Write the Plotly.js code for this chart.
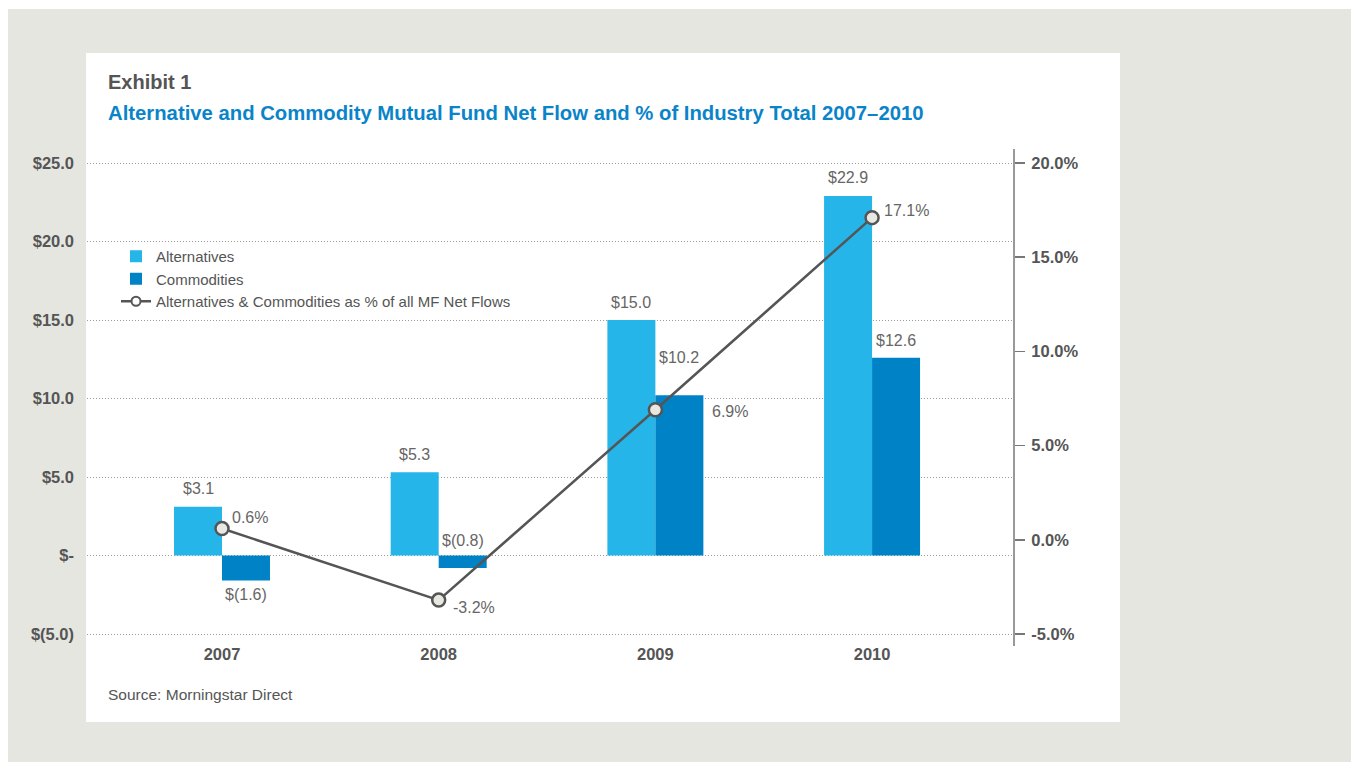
<!DOCTYPE html>
<html><head><meta charset="utf-8">
<script src="https://cdn.plot.ly/plotly-3.0.1.min.js"></script>
<style>html,body{margin:0;padding:0;background:#fff;} #chart{width:1351px;height:762px;}</style>
</head><body><div id="chart"></div>
<script>
// ---- data ----
const years = ['2007', '2008', '2009', '2010'];
const alternatives = [3.1, 5.3, 15.0, 22.9];
const commodities = [-1.6, -0.8, 10.2, 12.6];
const pctOfIndustry = [0.6, -3.2, 6.9, 17.1];
const leftTickVals = [-5, 0, 5, 10, 15, 20, 25];
const leftTickText = ['$(5.0)', '$-', '$5.0', '$10.0', '$15.0', '$20.0', '$25.0'];
const rightTickVals = [-5, 0, 5, 10, 15, 20];
const rightTickText = ['-5.0%', '0.0%', '5.0%', '10.0%', '15.0%', '20.0%'];

// ---- layout helpers ----
const W = 1351, H = 762;
const TOP = 163, BOT = 634, LEFT = 87, RIGHT = 1014;
const padPx = 2; // keep edge gridlines inside the range
const yLo = -5, yHi = 25, y2Lo = -5, y2Hi = 20;
const yPerPx = (yHi - yLo) / (BOT - TOP), y2PerPx = (y2Hi - y2Lo) / (BOT - TOP);
const M = {l: LEFT, r: W - RIGHT, t: TOP - padPx, b: H - BOT - padPx};
const plotW = W - M.l - M.r, plotH = H - M.t - M.b;
const px = x => (x - M.l) / plotW;
const py = y => (H - M.b - y) / plotH;
const xRange = [-0.623, 3.655];
const bargap = 0.557;
const catPx = plotW / (xRange[1] - xRange[0]);
const barOff = (1 - bargap) * catPx / 4;

const FONT = 'Liberation Sans, Arial, sans-serif';
const GREY = '#555555';
const LBL = '#666666';

function fmtMoney(v) { return v < 0 ? '$(' + Math.abs(v).toFixed(1) + ')' : '$' + v.toFixed(1); }

// label offsets (styling)
const commLift = [-14, 15, 38, 17];
const pctDx = [8, 12, 55, 10];
const pctDy = [11, -7, -2, 7];

const annotations = [];
alternatives.forEach((v, i) => {
  annotations.push({xref: 'x', yref: 'y', x: i, y: v, xshift: -barOff, yshift: 18,
    text: fmtMoney(v), showarrow: false, yanchor: 'middle', xanchor: 'center',
    font: {family: FONT, size: 16, color: LBL}});
});
commodities.forEach((v, i) => {
  const yv = (v < 0 && Math.abs(v) < 1) ? 0 : v;
  annotations.push({xref: 'x', yref: 'y', x: i, y: yv, xshift: barOff, yshift: commLift[i],
    text: fmtMoney(v), showarrow: false, yanchor: 'middle', xanchor: 'center',
    font: {family: FONT, size: 16, color: LBL}});
});
pctOfIndustry.forEach((v, i) => {
  annotations.push({xref: 'x', yref: 'y2', x: i, y: v, xshift: pctDx[i], yshift: pctDy[i],
    text: v.toFixed(1) + '%', showarrow: false, yanchor: 'middle', xanchor: 'left',
    font: {family: FONT, size: 16, color: LBL}});
});
annotations.push({xref: 'paper', yref: 'paper', x: px(106), y: py(82), xanchor: 'left', yanchor: 'middle',
  text: 'Exhibit 1', showarrow: false, font: {family: FONT, size: 20, color: GREY, weight: 'bold'}});
annotations.push({xref: 'paper', yref: 'paper', x: px(106), y: py(113), xanchor: 'left', yanchor: 'middle',
  text: 'Alternative and Commodity Mutual Fund Net Flow and % of Industry Total 2007–2010', showarrow: false,
  font: {family: FONT, size: 20.3, color: '#0a84c9', weight: 'bold'}});
annotations.push({xref: 'paper', yref: 'paper', x: px(106), y: py(694), xanchor: 'left', yanchor: 'middle',
  text: 'Source: Morningstar Direct', showarrow: false, font: {family: FONT, size: 15.5, color: GREY}});

const traces = [
  {type: 'bar', name: 'Alternatives', x: years, y: alternatives, marker: {color: '#25b5e9'}, hoverinfo: 'none'},
  {type: 'bar', name: 'Commodities', x: years, y: commodities, marker: {color: '#0083c6'}, hoverinfo: 'none'},
  {type: 'scatter', mode: 'lines+markers', name: 'Alternatives & Commodities as % of all MF Net Flows',
    x: years, y: pctOfIndustry, yaxis: 'y2', showlegend: false, hoverinfo: 'none',
    line: {color: '#555555', width: 2.5},
    marker: {symbol: 'circle', size: 13, color: '#e8e8e3', line: {color: '#555555', width: 2.5}}},
  {type: 'scatter', mode: 'lines+markers', name: 'Alternatives & Commodities as % of all MF Net Flows',
    x: [null], y: [null], yaxis: 'y2', showlegend: true, hoverinfo: 'none',
    line: {color: '#555555', width: 2.5},
    marker: {symbol: 'circle', size: 9, color: '#ffffff', line: {color: '#555555', width: 2}}}
];

const layout = {
  width: W, height: H, margin: M,
  paper_bgcolor: '#ffffff', plot_bgcolor: 'rgba(0,0,0,0)',
  barmode: 'group', bargap: bargap, bargroupgap: 0,
  showlegend: true,
  legend: {x: px(116), y: py(240), xanchor: 'left', yanchor: 'top', bgcolor: 'rgba(0,0,0,0)',
    font: {family: FONT, size: 15, color: GREY}, traceorder: 'normal', tracegroupgap: 0},
  xaxis: {type: 'category', range: xRange, showgrid: false, zeroline: false, showline: false, ticks: '',
    tickfont: {family: FONT, size: 16.5, color: GREY, weight: 'bold'}, ticklabelstandoff: 6, fixedrange: true},
  yaxis: {range: [yLo - padPx * yPerPx, yHi + padPx * yPerPx], tickvals: leftTickVals, ticktext: leftTickText,
    showgrid: true, gridcolor: '#9a9a9a', gridwidth: 1, griddash: '1px,2px', zeroline: false, showline: false,
    ticks: '', tickfont: {family: FONT, size: 16.5, color: GREY, weight: 'bold'}, ticklabelstandoff: 12,
    fixedrange: true},
  yaxis2: {overlaying: 'y', side: 'right', range: [y2Lo - padPx * y2PerPx, y2Hi + padPx * y2PerPx],
    tickvals: rightTickVals, ticktext: rightTickText,
    showgrid: false, zeroline: false, showline: false, ticks: 'outside', ticklen: 10, tickwidth: 1.5,
    tickcolor: '#777777', tickfont: {family: FONT, size: 16.5, color: GREY, weight: 'bold'},
    ticklabelstandoff: 3, fixedrange: true},
  shapes: [
    {type: 'rect', xref: 'paper', yref: 'paper', x0: px(8), x1: px(W + 5), y0: py(H + 5), y1: py(9),
      fillcolor: '#e6e6e1', line: {width: 0}, layer: 'below'},
    {type: 'rect', xref: 'paper', yref: 'paper', x0: px(86), x1: px(1120), y0: py(722), y1: py(53),
      fillcolor: '#ffffff', line: {width: 0}, layer: 'below'},
    {type: 'line', xref: 'paper', yref: 'paper', x0: 1, x1: 1, y0: py(646), y1: py(149),
      line: {color: '#777777', width: 1.5}, layer: 'above'}
  ],
  annotations: annotations,
  hovermode: false
};

Plotly.newPlot('chart', traces, layout, {displayModeBar: false, staticPlot: true});
</script>
</body></html>
